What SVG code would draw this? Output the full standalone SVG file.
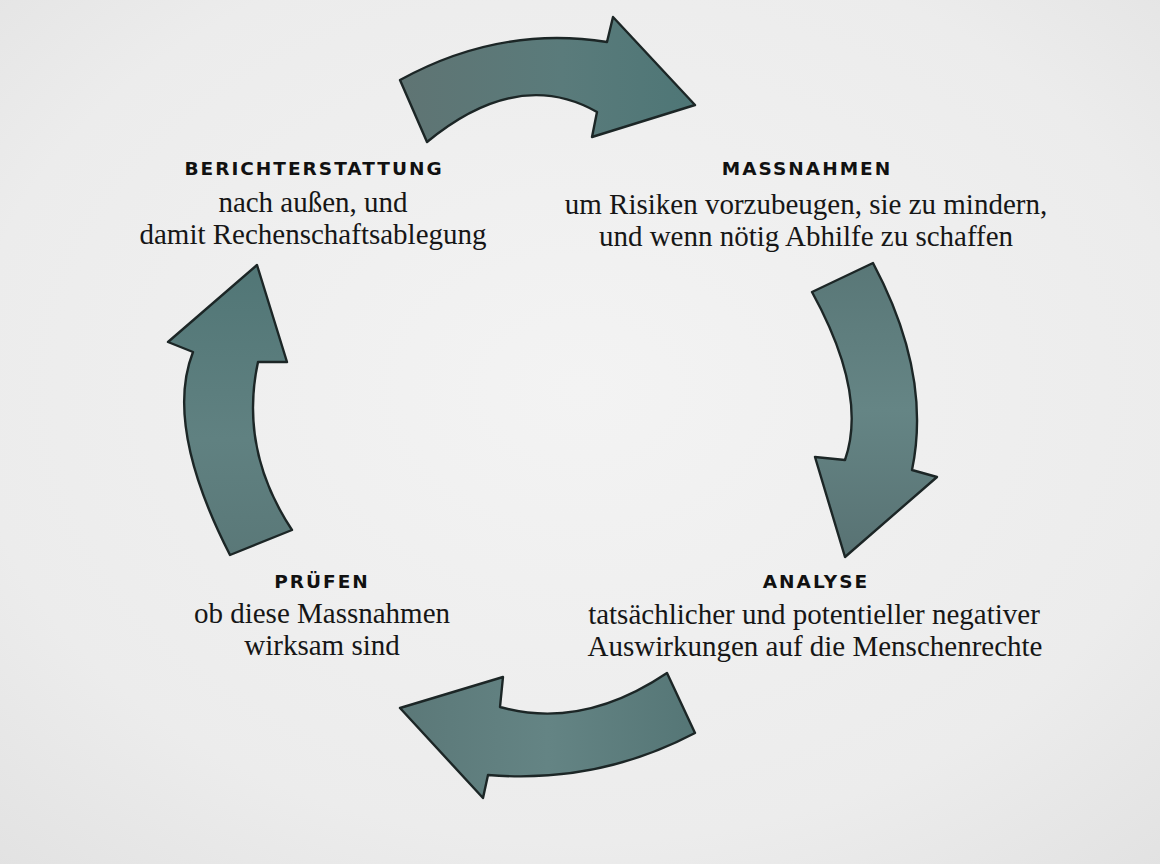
<svg xmlns="http://www.w3.org/2000/svg" width="1160" height="864" viewBox="0 0 1160 864">
  <defs>
    <style>
      .title { font-family: "DejaVu Sans", "Liberation Sans", sans-serif; font-weight: bold; font-size: 18.5px; letter-spacing: 2px; fill: #111111; text-anchor: middle; }
      .desc { font-family: "Liberation Serif", "Times New Roman", serif; font-size: 29px; fill: #161616; text-anchor: middle; }
      .arrow { stroke: #1c2626; stroke-width: 2.4; stroke-linejoin: round; }
    </style>
    <radialGradient id="paper" cx="0.5" cy="0.45" r="0.75">
      <stop offset="0" stop-color="#f3f3f3"/>
      <stop offset="0.7" stop-color="#ececec"/>
      <stop offset="1" stop-color="#e2e2e2"/>
    </radialGradient>
    <linearGradient id="inkTop" x1="0" y1="0" x2="1" y2="0">
      <stop offset="0" stop-color="#5f7473"/>
      <stop offset="0.55" stop-color="#5a7b7b"/>
      <stop offset="1" stop-color="#4e7676"/>
    </linearGradient>
    <linearGradient id="inkRight" x1="0" y1="0" x2="0" y2="1">
      <stop offset="0" stop-color="#597777"/>
      <stop offset="0.5" stop-color="#658585"/>
      <stop offset="1" stop-color="#587273"/>
    </linearGradient>
    <linearGradient id="inkBottom" x1="0" y1="0" x2="1" y2="0">
      <stop offset="0" stop-color="#5b7878"/>
      <stop offset="0.5" stop-color="#648484"/>
      <stop offset="1" stop-color="#557676"/>
    </linearGradient>
    <linearGradient id="inkLeft" x1="0" y1="0" x2="0" y2="1">
      <stop offset="0" stop-color="#517676"/>
      <stop offset="0.6" stop-color="#608181"/>
      <stop offset="1" stop-color="#5a7878"/>
    </linearGradient>
  </defs>

  <!-- paper background -->
  <rect x="0" y="0" width="1160" height="864" fill="url(#paper)"/>

  <!-- curved cycle arrows -->
  <g id="connectors">
    <path id="arrow-top" class="arrow" fill="url(#inkTop)"
          d="M400,80 Q500,25 607,42 L613,17 L695,105 L592,137 L597,112 Q518,67 427,142 Z"/>
    <path id="arrow-right" class="arrow" fill="url(#inkRight)"
          d="M873,263 Q932,374 912,470 L937,477 L845,557 L815,457 L845,460 Q868,394 812,292 Z"/>
    <path id="arrow-bottom" class="arrow" fill="url(#inkBottom)"
          d="M695,733 Q598,784 488,775 L483,798 L400,708 L503,677 L500,707 Q582,730 667,673 Z"/>
    <path id="arrow-left" class="arrow" fill="url(#inkLeft)"
          d="M230,555 Q164,426 193,352 L168,342 L257,265 L287,362 L258,362 Q239,450 292,530 Z"/>
  </g>

  <g id="node-berichterstattung">
    <text class="title" x="314" y="175">BERICHTERSTATTUNG</text>
    <text class="desc" x="313" y="212">nach außen, und</text>
    <text class="desc" x="313" y="244">damit Rechenschaftsablegung</text>
  </g>

  <g id="node-massnahmen">
    <text class="title" x="807" y="175">MASSNAHMEN</text>
    <text class="desc" x="806" y="214">um Risiken vorzubeugen, sie zu mindern,</text>
    <text class="desc" x="806" y="246">und wenn nötig Abhilfe zu schaffen</text>
  </g>

  <g id="node-analyse">
    <text class="title" x="816" y="588">ANALYSE</text>
    <text class="desc" x="814" y="624">tatsächlicher und potentieller negativer</text>
    <text class="desc" x="815" y="656">Auswirkungen auf die Menschenrechte</text>
  </g>

  <g id="node-pruefen">
    <text class="title" x="322" y="588">PRÜFEN</text>
    <text class="desc" x="322" y="623">ob diese Massnahmen</text>
    <text class="desc" x="322" y="655">wirksam sind</text>
  </g>
</svg>
